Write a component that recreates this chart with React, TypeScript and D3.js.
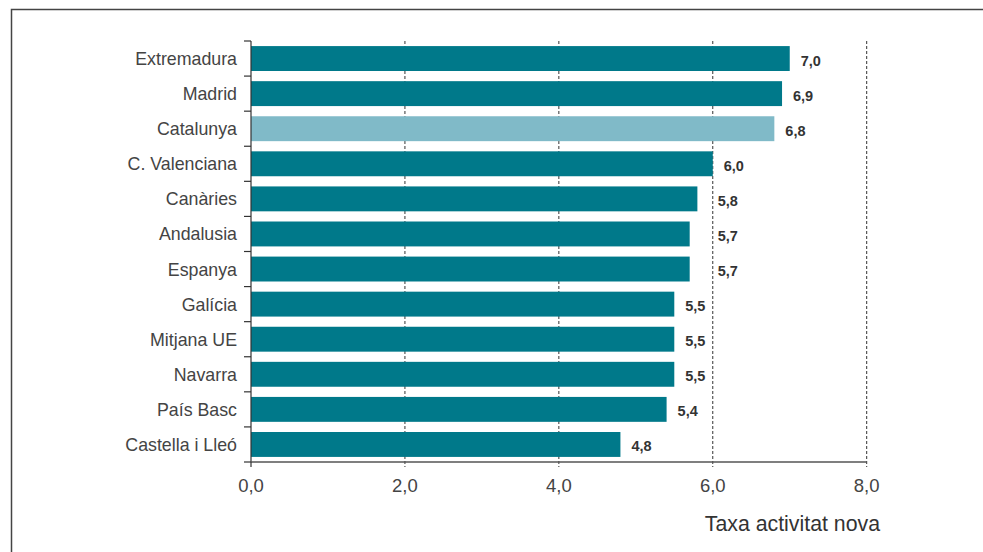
import React from "react";
import * as d3 from "d3";

const categories = ["Extremadura","Madrid","Catalunya","C. Valenciana","Canàries","Andalusia","Espanya","Galícia","Mitjana UE","Navarra","País Basc","Castella i Lleó"];
const values = [7.0,6.9,6.8,6.0,5.8,5.7,5.7,5.5,5.5,5.5,5.4,4.8];
const highlighted = ["Catalunya"];
const xTicks = [0,2,4,6,8];
const axisTitle = "Taxa activitat nova";

const W = 983, H = 552;
const FONT = "'Liberation Sans', Arial, Helvetica, sans-serif";

export default function App() {
  const x = d3.scaleLinear().domain([0, 8]).range([251, 866.7]);
  const y = d3.scaleBand<string>().domain(categories).range([41, 462]).paddingInner(0.29).paddingOuter(0.145);
  const fmt = (v: number) => v.toFixed(1).replace(".", ",");
  const step = y.step();
  const boundaries = d3.range(categories.length + 1).map(i => 41 + i * step);
  const labelX = (v: number) => {
    let lx = x(v) + 11;
    const labW = 24;
    for (const t of xTicks) {
      const gx = x(t);
      if (t > 0 && lx < gx + 4 && lx + labW > gx) lx = gx + 5;
    }
    return lx;
  };
  return (
    <svg width={W} height={H} style={{ position: "absolute", left: 0, top: 0, display: "block" }}>
      <rect x={0} y={0} width={W} height={H} fill="#fff" />
      {/* frame */}
      <path d={`M11.5,${H} L11.5,9.5 L${W},9.5`} fill="none" stroke="#444" strokeWidth={1.5} />
      {/* gridlines */}
      {xTicks.filter(t => t > 0).map(t => (
        <line key={t} x1={x(t)} x2={x(t)} y1={41} y2={467} stroke="#333" strokeWidth={1} strokeDasharray="3,2" />
      ))}
      {/* bars */}
      {categories.map((c, i) => (
        <rect key={c} x={x(0)} y={y(c)} width={x(values[i]) - x(0)} height={y.bandwidth()}
          fill={highlighted.includes(c) ? "#80BAC8" : "#00798A"} />
      ))}
      {/* value labels */}
      {categories.map((c, i) => (
        <text key={c} x={labelX(values[i])} y={(y(c) as number) + y.bandwidth() / 2 + 7} fontFamily={FONT}
          fontSize={14.5} fontWeight="bold" fill="#333">{fmt(values[i])}</text>
      ))}
      {/* y axis */}
      <line x1={251} x2={251} y1={41} y2={462} stroke="#333" strokeWidth={1.2} />
      {boundaries.map((b, i) => (
        <line key={i} x1={244} x2={251} y1={b} y2={b} stroke="#333" strokeWidth={1.2} />
      ))}
      {categories.map(c => (
        <text key={c} x={237} y={(y(c) as number) + y.bandwidth() / 2 + 6.5} textAnchor="end" fontFamily={FONT}
          fontSize={17.8} fill="#444">{c}</text>
      ))}
      {/* x axis */}
      <line x1={251} x2={x(8)} y1={462} y2={462} stroke="#555" strokeWidth={1.5} />
      <line x1={251} x2={251} y1={462} y2={467} stroke="#333" strokeWidth={1.2} />
      {xTicks.map(t => (
        <text key={t} x={x(t)} y={492} textAnchor="middle" fontFamily={FONT} fontSize={18.5} fill="#444">{fmt(t)}</text>
      ))}
      <text x={880} y={531} textAnchor="end" fontFamily={FONT} fontSize={21.3} fill="#333">{axisTitle}</text>
    </svg>
  );
}
